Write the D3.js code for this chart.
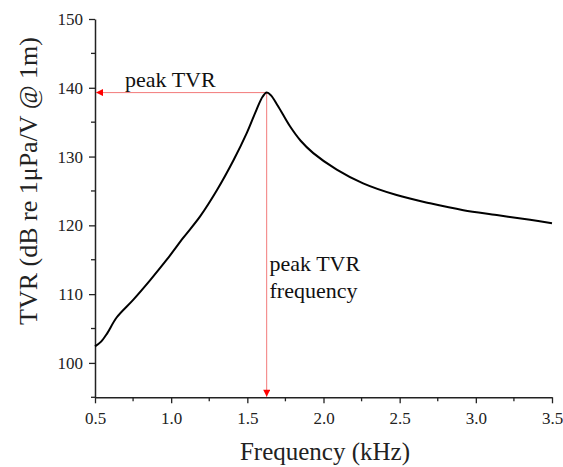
<!DOCTYPE html>
<html><head><meta charset="utf-8">
<script src="https://cdn.jsdelivr.net/npm/d3@7"></script>
</head><body style="margin:0;background:#fff"><svg id="c" width="563" height="467"></svg>
<script>
const freq = [0.5,0.54,0.58,0.642,0.752,0.861,0.971,1.08,1.19,1.30,1.41,1.496,1.56,1.60,1.627,1.655,1.70,1.78,1.85,1.933,2.087,2.26,2.48,2.70,2.918,3.137,3.356,3.5];
const tvr  = [102.4,103.1,104.3,106.6,109.2,112.0,115.0,118.2,121.3,125.1,129.5,133.4,136.8,138.7,139.3,138.9,137.4,134.4,132.3,130.5,128.1,126.1,124.4,123.2,122.2,121.5,120.8,120.3];
const peakFreq = 1.627, peakTVR = 139.3;
const xTicks = [0.5,1.0,1.5,2.0,2.5,3.0,3.5];
const yTicks = [100,110,120,130,140,150];

const FONT = '"Liberation Serif"';
const svg = d3.select("#c");
const L=95,R=552,T=19,B=397.3;
const x = d3.scaleLinear().domain([0.5,3.5]).range([L,R]);
const y = d3.scaleLinear().domain([95,150]).range([B,T]);

const xMinor = d3.range(0.75,3.5,0.5);
const yMinor = d3.range(95,150,10);
const gx = svg.append("g").attr("transform",`translate(0,${B})`);
gx.call(d3.axisBottom(x).tickValues(xTicks).tickFormat(d3.format(".1f")).tickSize(6).tickPadding(9).tickSizeOuter(0));
gx.append("g").selectAll("line").data(xMinor).join("line").attr("x1",d=>x(d)).attr("x2",d=>x(d)).attr("y1",0).attr("y2",4).attr("stroke","#222").attr("stroke-width",1.3);
const gy = svg.append("g").attr("transform",`translate(${L},0)`);
gy.call(d3.axisLeft(y).tickValues(yTicks).tickFormat(d3.format("d")).tickSize(6).tickPadding(6).tickSizeOuter(0));
gy.append("g").selectAll("line").data(yMinor).join("line").attr("y1",d=>y(d)).attr("y2",d=>y(d)).attr("x1",0).attr("x2",-4).attr("stroke","#222").attr("stroke-width",1.3);
[gx,gy].forEach(g=>{
  g.attr("font-family",null);
  g.select(".domain").attr("stroke","#222").attr("stroke-width",1.5);
  g.selectAll(".tick line").attr("stroke","#222").attr("stroke-width",1.3);
  g.selectAll(".tick text").style("font-family",FONT).attr("font-size",17).attr("fill","#222");
});

const defs = svg.append("defs");
defs.append("marker").attr("id","ah").attr("viewBox","0 0 10 10").attr("refX",10).attr("refY",5)
 .attr("markerWidth",9).attr("markerHeight",7).attr("markerUnits","userSpaceOnUse").attr("orient","auto")
 .append("path").attr("d","M0,0L10,5L0,10Z").attr("fill","#ff0000");
svg.append("line").attr("x1",x(peakFreq)).attr("y1",y(peakTVR)).attr("x2",L+1).attr("y2",y(peakTVR))
 .attr("stroke","#f27a7a").attr("stroke-width",1).attr("marker-end","url(#ah)");
svg.append("line").attr("x1",x(peakFreq)).attr("y1",y(peakTVR)).attr("x2",x(peakFreq)).attr("y2",B-0.5)
 .attr("stroke","#f27a7a").attr("stroke-width",1).attr("marker-end","url(#ah)");

svg.append("path").datum(freq.map((f,i)=>[f,tvr[i]]))
 .attr("d",d3.line().x(d=>x(d[0])).y(d=>y(d[1])).curve(d3.curveCatmullRom.alpha(0.5)))
 .attr("fill","none").attr("stroke","#000").attr("stroke-width",2);

const txt = (xx,yy,s,size)=>svg.append("text").attr("x",xx).attr("y",yy).attr("font-size",size).attr("fill","#111").style("font-family",FONT).text(s);
txt(125,86.5,"peak TVR",22);
txt(269.5,271,"peak TVR",22);
txt(269.5,298,"frequency",22);

txt(325,460,"Frequency (kHz)",25).attr("text-anchor","middle").attr("fill","#222");
svg.append("text").attr("transform",`translate(37,181) rotate(-90)`).attr("text-anchor","middle").attr("font-size",26).attr("fill","#222").style("font-family",FONT).text("TVR (dB re 1μPa/V @ 1m)");
</script></body></html>
